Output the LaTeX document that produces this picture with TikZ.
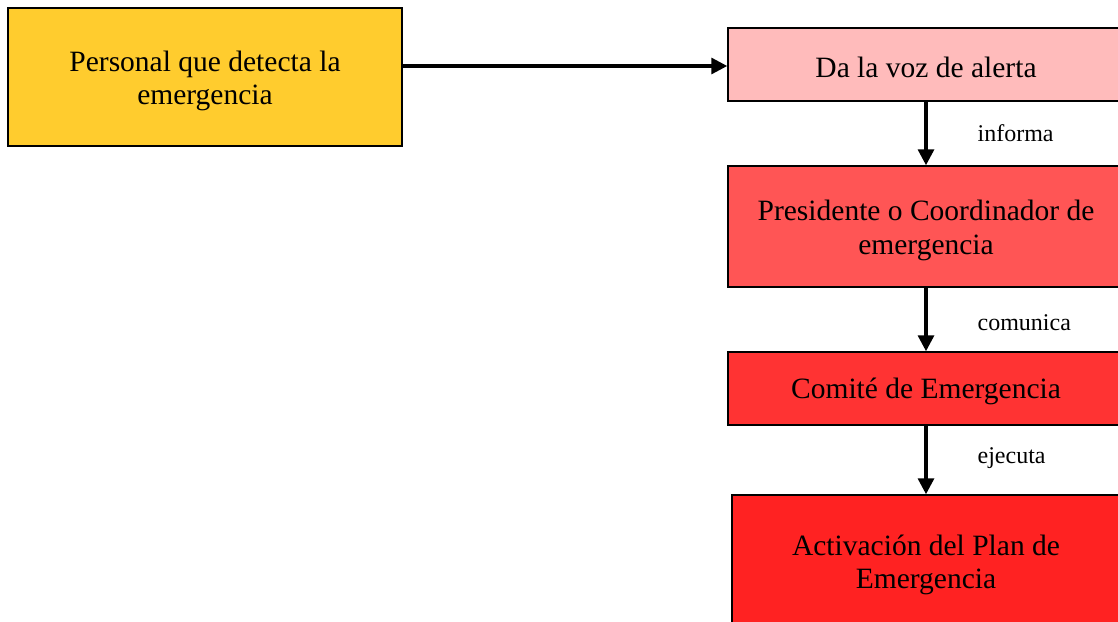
\documentclass[tikz,border=0pt]{standalone}
\usepackage{fontspec}
\setmainfont{Liberation Serif}
\usetikzlibrary{arrows.meta}
\definecolor{cyellow}{HTML}{FFCC2E}
\definecolor{cpink}{HTML}{FFBBBB}
\definecolor{cred1}{HTML}{FF5555}
\definecolor{cred2}{HTML}{FF3333}
\definecolor{cred3}{HTML}{FF2222}
\tikzset{
  stepbox/.style={draw=black, line width=1.5pt, rectangle, inner sep=0pt},
  boxtext/.style={align=center, inner sep=0pt, yshift=-4pt,
    font=\fontsize{29.5}{33.5}\selectfont},
  flow/.style={line width=3.3pt, -{Triangle[length=16pt,width=16pt]}},
  verb/.style={anchor=west, xshift=50pt, inner sep=0pt,
    font=\fontsize{24}{28}\selectfont}
}
\begin{document}
\begin{tikzpicture}[x=1pt,y=-1pt]
\useasboundingbox (0,0) rectangle (1118,621);
\clip (0,0) rectangle (1118,621);
\fill[white] (0,0) rectangle (1118,621);

\node[stepbox, fill=cyellow, minimum width=394pt, minimum height=138pt,
  label={[boxtext]center:Personal que detecta la\\emergencia}]
  (detecta) at (205,77) {};
\node[stepbox, fill=cpink, minimum width=396pt, minimum height=73pt,
  label={[boxtext, yshift=1pt]center:Da la voz de alerta}]
  (alerta) at (926,64.5) {};
\node[stepbox, fill=cred1, minimum width=396pt, minimum height=121pt,
  label={[boxtext]center:Presidente o Coordinador de\\emergencia}]
  (coord) at (926,226.5) {};
\node[stepbox, fill=cred2, minimum width=396pt, minimum height=73pt,
  label={[boxtext, yshift=1pt]center:Comité de Emergencia}]
  (comite) at (926,388.5) {};
\node[stepbox, fill=cred3, minimum width=388pt, minimum height=150pt,
  label={[boxtext, yshift=9pt]center:Activación del Plan de\\Emergencia}]
  (plan) at (926,570) {};

\draw[flow] (detecta.east |- 0,66) -- (alerta.west |- 0,66);
\draw[flow] (alerta.south) -- node[verb]{informa} (coord.north);
\draw[flow] (coord.south) -- node[verb, yshift=-3pt]{comunica} (comite.north);
\draw[flow] (comite.south) -- node[verb, yshift=2pt]{ejecuta} (plan.north);
\end{tikzpicture}
\end{document}
